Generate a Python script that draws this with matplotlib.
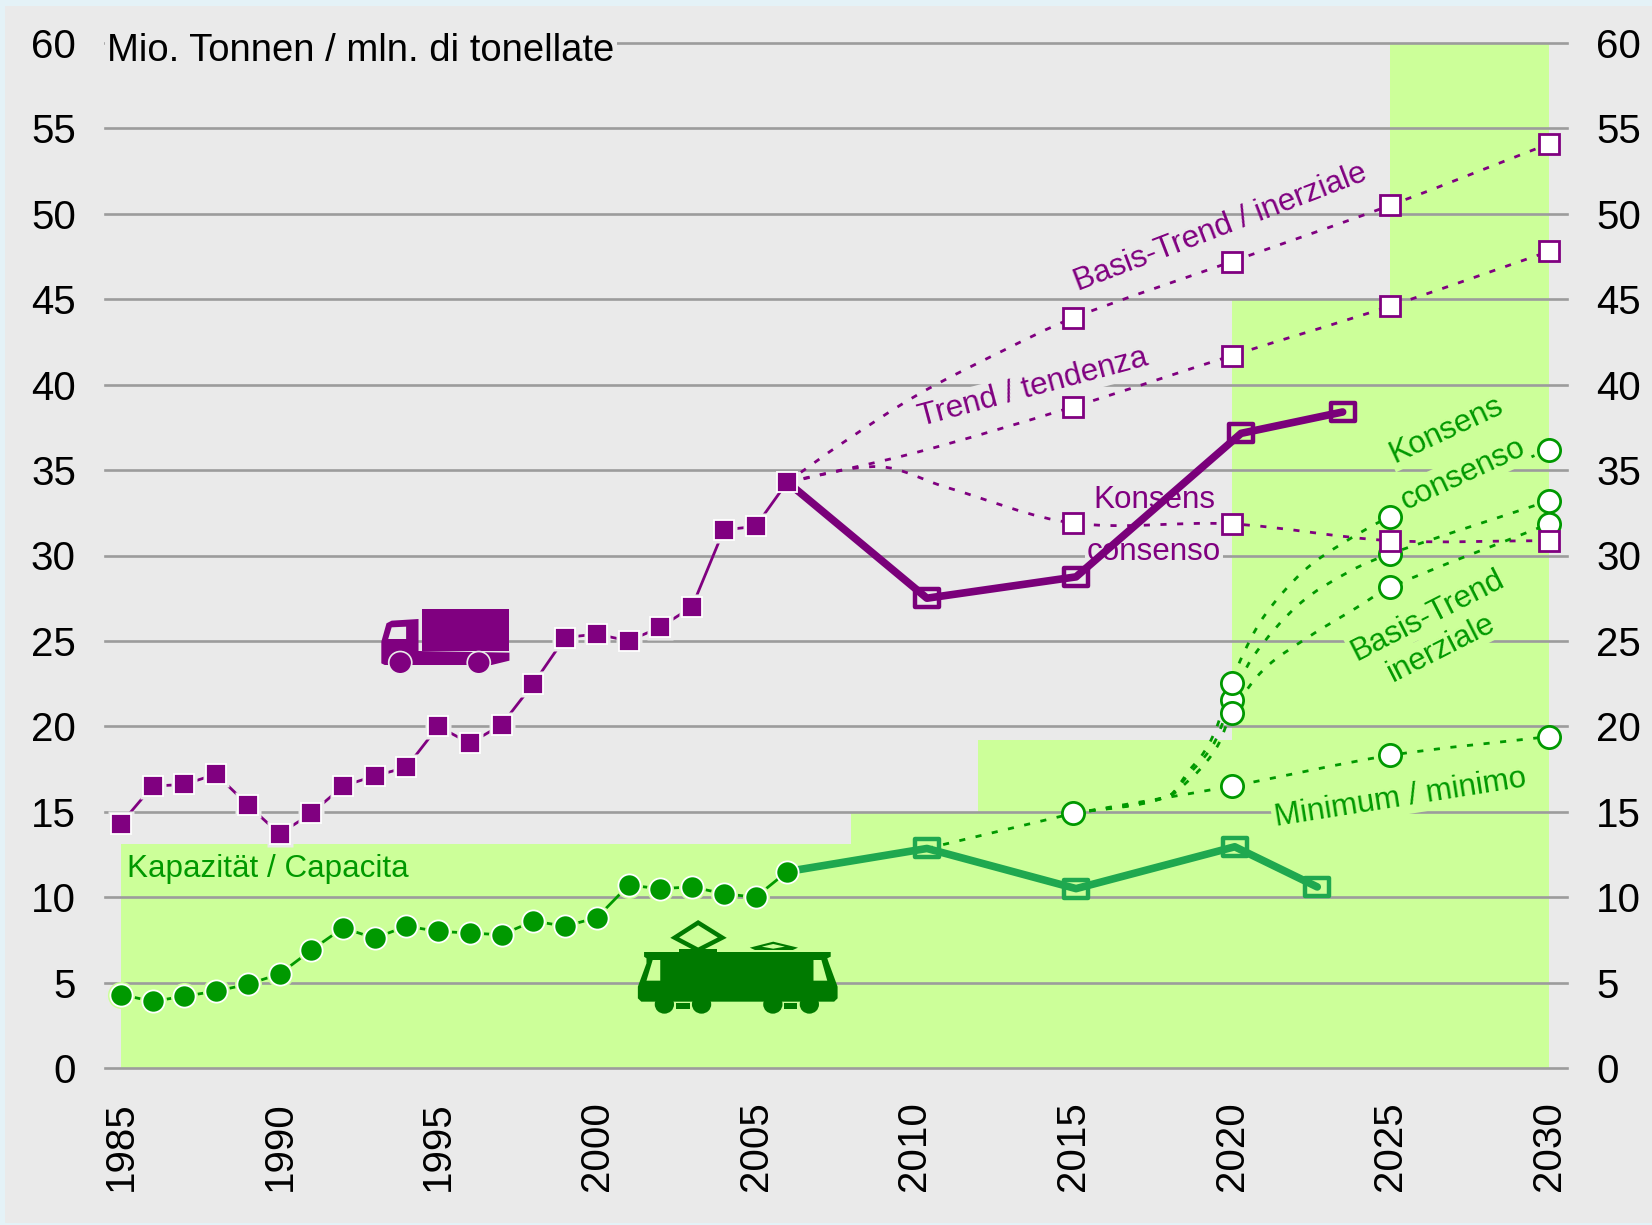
import matplotlib
matplotlib.use('Agg')
import matplotlib.pyplot as plt
from matplotlib.path import Path
from matplotlib.patches import PathPatch, Polygon, Ellipse, Rectangle
from matplotlib.transforms import Affine2D

# ---------- data ----------
hist_years = list(range(1985, 2007))
road_hist = [14.3, 16.5, 16.6, 17.2, 15.4, 13.7, 14.9, 16.5, 17.1, 17.6, 20.0, 19.0, 20.1, 22.5, 25.2, 25.4, 25.0, 25.8, 27.0, 31.5, 31.7, 34.3]
rail_hist = [4.3, 3.9, 4.2, 4.5, 4.9, 5.5, 6.9, 8.2, 7.6, 8.3, 8.0, 7.9, 7.8, 8.6, 8.3, 8.8, 10.7, 10.5, 10.6, 10.2, 10.0, 11.5]

road_act_x = [2006, 2010.4, 2015.1, 2020.3, 2023.5]
road_act_y = [34.3, 27.5, 28.75, 37.15, 38.4]
rail_act_x = [2006, 2010.4, 2015.1, 2020.1, 2022.7]
rail_act_y = [11.5, 12.85, 10.5, 12.95, 10.6]

scen_years = [2015, 2020, 2025, 2030]
road_basis = [43.9, 47.2, 50.5, 54.1]
road_trend = [38.7, 41.7, 44.6, 47.8]
road_kons = [31.9, 31.85, 30.87, 30.87]
rail_min = [14.9, 16.5, 18.3, 19.4]
rail_kons_pts = [22.56, 32.28, 36.2]
rail_mid_pts = [21.55, 30.1, 33.2]
rail_basis_pts = [20.77, 28.14, 31.85]
rail_scen_years = [2020, 2025, 2030]

# curve courses
road_basis_cx = [2006, 2007.75, 2010.1, 2012.7, 2015, 2020, 2025, 2030]
road_basis_cy = [34.3, 36.6, 39.4, 41.9, 43.9, 47.2, 50.5, 54.1]
road_trend_cx = [2006, 2010, 2015, 2020, 2025, 2030]
road_trend_cy = [34.3, 36.0, 38.7, 41.7, 44.6, 47.8]
road_kons_cx = [2006, 2008.9, 2011, 2015, 2020, 2025, 2030]
road_kons_cy = [34.3, 35.2, 34.0, 31.9, 31.85, 30.87, 30.87]
rail_kons_cx = [2015, 2018.0, 2018.7, 2019.1, 2019.5, 2020, 2020.36, 2020.9, 2021.6, 2022.4, 2023.4, 2025, 2030]
rail_kons_cy = [14.9, 15.9, 17.5, 18.4, 19.8, 22.56, 24.2, 26.1, 27.8, 29.3, 30.6, 32.28, 36.2]
rail_mid_cx = [2015, 2018.0, 2018.7, 2019.1, 2019.5, 2020, 2020.65, 2022.1, 2023.7, 2025, 2030]
rail_mid_cy = [14.9, 15.9, 17.3, 18.1, 19.2, 21.55, 24.0, 27.1, 29.05, 30.1, 33.2]
rail_basis_cx = [2015, 2018.0, 2018.8, 2019.2, 2019.6, 2020, 2021, 2022.4, 2023.9, 2025, 2030]
rail_basis_cy = [14.9, 15.9, 17.1, 17.9, 19.0, 20.77, 23.3, 25.2, 26.9, 28.14, 31.85]
rail_link_x = [2010.4, 2015]
rail_link_y = [12.85, 14.9]

cap_x = [1985, 2008, 2012, 2020, 2025, 2030]
cap_y = [13.1, 14.9, 19.2, 45, 60]

y_ticks = list(range(0, 65, 5))
x_ticks = [1985, 1990, 1995, 2000, 2005, 2010, 2015, 2020, 2025, 2030]

# ---------- style ----------
W, H = 1652, 1225
PURPLE = '#800080'
GREEN = '#009900'
BOLDG = '#1FA84F'
FILL = '#CCFF99'
BG = '#EAEAEA'
SANS = ['Liberation Sans', 'DejaVu Sans']

fig = plt.figure(figsize=(W / 100, H / 100), dpi=100, facecolor='#E4F2F7')
fig.add_artist(Rectangle((5 / W, 0.002), 1, 1 - 8 / H, transform=fig.transFigure, fc=BG, ec='none', zorder=-5))
ax = fig.add_axes([105 / W, 1 - 1068 / H, (1567 - 105) / W, (1068 - 43) / H])
ax.patch.set_visible(False)
ax.set_xlim(1984.5, 2030.57)
ax.set_ylim(0, 60)
px = Affine2D().scale(1, -1).translate(0, H)


def curve(xs, ys, color, lw=2.0, z=3):
    verts, codes = [(xs[0], ys[0])], [Path.MOVETO]
    n = len(xs)
    m = []
    for i in range(n):
        a, b = max(i - 1, 0), min(i + 1, n - 1)
        m.append((ys[b] - ys[a]) / (xs[b] - xs[a]))
    for i in range(n - 1):
        h = xs[i + 1] - xs[i]
        verts += [(xs[i] + h / 3, ys[i] + m[i] * h / 3), (xs[i + 1] - h / 3, ys[i + 1] - m[i + 1] * h / 3), (xs[i + 1], ys[i + 1])]
        codes += [Path.CURVE4] * 3
    ax.add_patch(PathPatch(Path(verts, codes), fill=False, ec=color, lw=lw, ls=(0, (2.2, 3.8)), zorder=z, capstyle='butt'))


# capacity
for i in range(len(cap_y)):
    ax.fill_between([cap_x[i], cap_x[i + 1]], 0, cap_y[i], color=FILL, lw=0, zorder=1)

# grid
for v in y_ticks:
    ax.axhline(v, color='#9C9C9C', lw=1.9, zorder=1.5, clip_on=False)

# scenarios
curve(road_basis_cx, road_basis_cy, PURPLE)
curve(road_trend_cx, road_trend_cy, PURPLE)
curve(road_kons_cx, road_kons_cy, PURPLE)
curve(rail_kons_cx, rail_kons_cy, GREEN)
curve(rail_mid_cx, rail_mid_cy, GREEN)
curve(rail_basis_cx, rail_basis_cy, GREEN)
curve(scen_years, rail_min, GREEN)
curve(rail_link_x, rail_link_y, GREEN)


def txt(x, y, s, color, size=22.6, rot=0, halo=None, z=4, **kw):
    bb = dict(fc=halo, ec='none', pad=1.5) if halo else None
    ax.text(x, y, s, transform=px, color=color, fontsize=size, rotation=rot, rotation_mode='anchor',
            ha='center', va='center', bbox=bb, zorder=z, family=SANS, clip_on=False, **kw)


# texts (under the bold lines)
txt(361, 51, 'Mio. Tonnen / mln. di tonellate', 'black', size=27.5, halo=BG)
txt(1220, 228, 'Basis-Trend / inerziale', PURPLE, rot=21)
txt(1033, 388, 'Trend / tendenza', PURPLE, rot=15, halo=BG)
txt(1154, 500, 'Konsens', PURPLE)
txt(1154, 552, 'consenso', PURPLE, halo=BG)
txt(268, 869, 'Kapazität / Capacita', GREEN)
txt(1446, 430, 'Konsens', GREEN, rot=25, halo=FILL)
txt(1463, 474, 'consenso', GREEN, rot=25, halo=FILL)
txt(1428, 616, 'Basis-Trend', GREEN, rot=27, halo=FILL)
txt(1441, 648, 'inerziale', GREEN, rot=27, halo=FILL)
txt(1400, 798, 'Minimum / minimo', GREEN, rot=9, halo=FILL)

# bold lines
rect = Path([(-1.3, -1), (1.3, -1), (1.3, 1), (-1.3, 1), (-1.3, -1)], closed=True)
ax.plot(road_act_x, road_act_y, color='#7A007A', lw=5.5, zorder=5, solid_capstyle='round')
ax.plot(road_act_x[1:], road_act_y[1:], ls='', marker=rect, ms=17, mfc='none', mec='#7A007A', mew=3.2, zorder=5)
ax.plot(rail_act_x, rail_act_y, color=BOLDG, lw=5.5, zorder=5, solid_capstyle='round')
ax.plot(rail_act_x[1:], rail_act_y[1:], ls='', marker=rect, ms=17, mfc='none', mec=BOLDG, mew=3.2, zorder=5)

# history
ax.plot(hist_years, road_hist, color=PURPLE, lw=2, zorder=5.5)
ax.plot(hist_years[:-1], road_hist[:-1], ls='', marker='s', ms=18.5, mfc=BG, mec='none', zorder=5.6)
ax.plot(hist_years, road_hist, ls='', marker='s', ms=15, mfc=PURPLE, mec='white', mew=1.3, zorder=5.7)
ax.plot(hist_years, rail_hist, color=GREEN, lw=2, zorder=5.5)
ax.plot(hist_years[:-1], rail_hist[:-1], ls='', marker='o', ms=19.5, mfc=FILL, mec='none', zorder=5.6)
ax.plot(hist_years, rail_hist, ls='', marker='o', ms=16, mfc=GREEN, mec='white', mew=1.3, zorder=5.7)

# scenario markers
for ys in (road_basis, road_trend, road_kons):
    ax.plot(scen_years, ys, ls='', marker='s', ms=14, mfc='white', mec=PURPLE, mew=2, zorder=6.5)
ax.plot(scen_years, rail_min, ls='', marker='o', ms=16, mfc='white', mec=GREEN, mew=2, zorder=6)
for ys in (rail_mid_pts, rail_basis_pts, rail_kons_pts):
    ax.plot(rail_scen_years, ys, ls='', marker='o', ms=16, mfc='white', mec=GREEN, mew=2, zorder=6)


# icons
def Z(pts):
    return [(340 + a / 2.904, 570 + b / 3) for a, b in pts]


def poly(pts, fc, ec='none', lw=0, z=4.5):
    ax.add_patch(Polygon(Z(pts), closed=True, fc=fc, ec=ec, lw=lw, transform=px, zorder=z, clip_on=False))


def ell(cx, cy, r, fc, z=4.6):
    (a, b), = Z([(cx, cy)])
    ax.add_patch(Ellipse((a, b), 2 * r / 2.904, 2 * r / 3, fc=fc, ec='none', transform=px, zorder=z, clip_on=False))


TR = '#800080'
poly([(237, 117), (492, 117), (492, 242), (237, 242)], TR)
poly([(120, 280), (120, 215), (135, 160), (150, 152), (228, 147), (228, 243), (492, 248), (492, 272), (440, 285), (130, 285)], TR)
poly([(140, 207), (150, 172), (192, 170), (192, 207)], BG, z=4.7)
for c in (175, 403):
    ell(c, 278, 36, BG)
    ell(c, 278, 31, TR, z=4.7)

LO = '#007A00'
poly([(865, 1285), (865, 1250), (890, 1180), (890, 1165), (883, 1160), (883, 1146), (1425, 1146), (1425, 1160), (1415, 1165),
      (1420, 1180), (1445, 1250), (1445, 1285), (1435, 1295), (875, 1295)], LO)
poly([(890, 1232), (908, 1170), (930, 1170), (930, 1232)], FILL, z=4.7)
poly([(1375, 1232), (1375, 1170), (1398, 1170), (1415, 1232)], FILL, z=4.7)
for c in (942, 1050, 1257, 1363):
    ell(c, 1303, 28, LO)
poly([(975, 1298), (1015, 1298), (1015, 1318), (975, 1318)], LO)
poly([(1288, 1298), (1328, 1298), (1328, 1318), (1288, 1318)], LO)
poly([(1040, 1058), (1110, 1103), (1040, 1140), (972, 1103)], 'none', ec=LO, lw=3.2)
poly([(985, 1138), (1095, 1138), (1095, 1148), (985, 1148)], LO)
poly([(1190, 1133), (1258, 1115), (1330, 1133), (1315, 1140), (1205, 1140)], LO)
poly([(1225, 1130), (1258, 1122), (1292, 1130), (1258, 1136)], FILL, z=4.7)

# axes furniture
for s in ax.spines.values():
    s.set_visible(False)
ax.set_xticks(x_ticks)
ax.set_xticklabels([str(v) for v in x_ticks], rotation=90, family=SANS, fontsize=29)
ax.set_yticks(y_ticks)
ax.set_yticklabels([str(v) for v in y_ticks], family=SANS, fontsize=29)
ax.tick_params(axis='x', length=0, pad=24, colors='black')
ax.tick_params(axis='y', length=0, pad=21, left=False, right=False, labelleft=True, labelright=True, colors='black')

fig.savefig('out.png', dpi=100, facecolor=fig.get_facecolor())
